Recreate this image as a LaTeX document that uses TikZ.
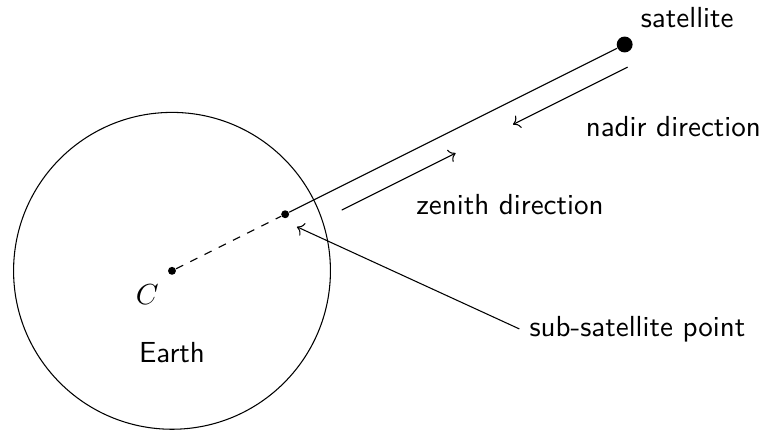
\documentclass[11pt,tikz,border=0pt]{standalone}
\usepackage{tikz}
\usetikzlibrary{arrows.meta,positioning,calc}
\tikzset{
  dot/.style={circle,fill,inner sep=0pt,minimum size=3pt},
  bigdot/.style={circle,fill,inner sep=0pt,minimum size=6pt},
}
\begin{document}
\begin{tikzpicture}[x=1cm,y=1cm,font=\sffamily]
  \useasboundingbox (-2.28,-2.11) rectangle (7.9,3.59);
  \draw (0,0) circle (2.1);
  \node[dot,label={below left:$C$}] (C) at (0,0) {};
  \node[dot] (sub) at (1.5,0.75) {};
  \node[bigdot,label={above right:satellite}] (sat) at (6,3) {};
  \draw[dashed] (C) -- (sub); \draw (sub) -- (sat);
  \node (earth) at (0,-1.09) {Earth};
  \coordinate (nadtail) at (6.04,2.70); \coordinate (nadtip) at (4.52,1.94);
  \draw[->] (nadtail) -- (nadtip);
  \node (nadir) at (6.645,1.91) {nadir direction};
  \coordinate (zentail) at (2.25,0.805); \coordinate (zentip) at (3.76,1.56);
  \draw[->] (zentail) -- (zentip);
  \node (zenith) at (4.48,0.875) {zenith direction};
  \node (ssp) at (6.17,-0.77) {sub-satellite point};
  \coordinate (ssptip) at (1.656,0.583); % just short of the sub-satellite dot
  \draw[->] (ssp.west) -- (ssptip);
\end{tikzpicture}
\end{document}
